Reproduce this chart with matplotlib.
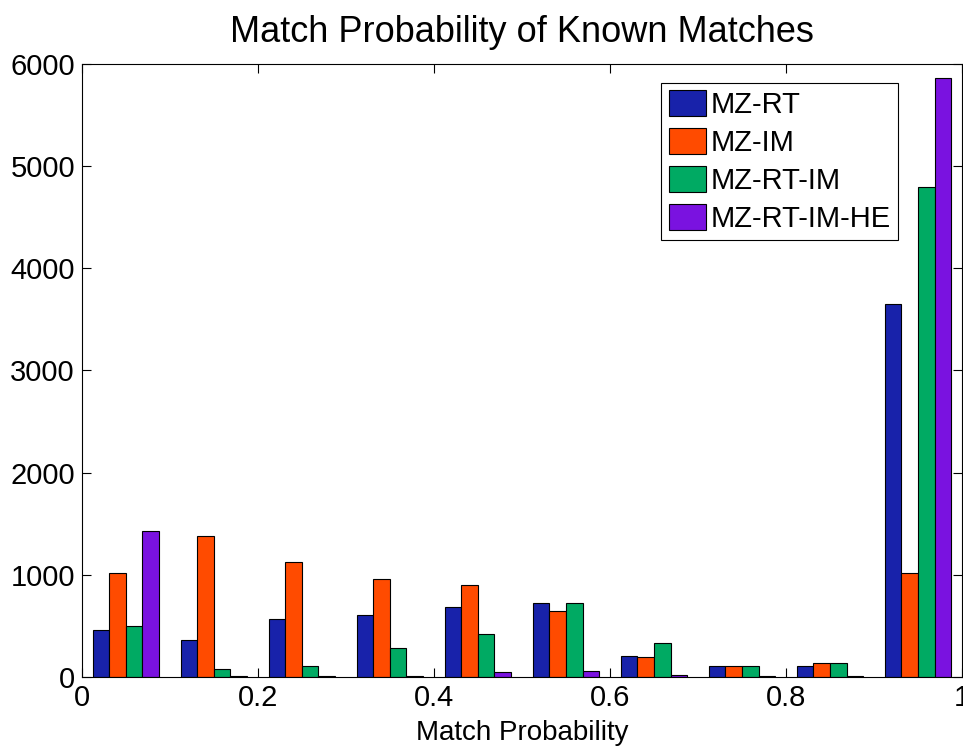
import matplotlib
matplotlib.use('Agg')
import matplotlib.pyplot as plt
import numpy as np

plt.rcParams['font.family'] = ['Liberation Sans', 'DejaVu Sans']

# histogram bin centers and counts per method
bin_centers = [0.05, 0.15, 0.25, 0.35, 0.45, 0.55, 0.65, 0.75, 0.85, 0.95]
mz_rt = [458, 360, 562, 608, 683, 719, 203, 105, 108, 3650]
mz_im = [1017, 1380, 1128, 958, 899, 647, 193, 105, 131, 1017]
mz_rt_im = [500, 72, 108, 278, 419, 719, 334, 105, 131, 4797]
mz_rt_im_he = [1426, 10, 10, 10, 46, 59, 20, 8, 8, 5863]

series = [mz_rt, mz_im, mz_rt_im, mz_rt_im_he]
labels = ['MZ-RT', 'MZ-IM', 'MZ-RT-IM', 'MZ-RT-IM-HE']
colors = ['#1822AA', '#FF4B00', '#00AA63', '#7A12E0']

fig = plt.figure(figsize=(9.63, 7.52), dpi=100)
ax = fig.add_axes([0.085, 0.1, 0.914, 0.815])

bar_w = 0.0188
x = np.array(bin_centers)
for i, (vals, lab, col) in enumerate(zip(series, labels, colors)):
    offs = (i - 1.5) * bar_w
    ax.bar(x + offs, vals, width=bar_w, color=col, edgecolor='black',
           linewidth=0.8, label=lab)

ax.set_xlim(0, 1)
ax.set_ylim(0, 6000)
ax.set_xticks([0, 0.2, 0.4, 0.6, 0.8, 1])
ax.set_xticklabels(['0', '0.2', '0.4', '0.6', '0.8', '1'])
ax.set_yticks(range(0, 6001, 1000))
ax.tick_params(direction='in', length=6.5, width=0.8, top=True, right=True,
               labelsize=21, pad=5)
for s in ax.spines.values():
    s.set_linewidth(0.8)

ax.set_title('Match Probability of Known Matches', fontsize=26, pad=16)
ax.set_xlabel('Match Probability', fontsize=20, labelpad=6)

leg = ax.legend(loc='upper right', bbox_to_anchor=(0.927, 0.969), fontsize=21,
                fancybox=False, framealpha=1, edgecolor='black',
                handlelength=1.28, handleheight=1.0, handletextpad=0.15,
                labelspacing=0.3, borderpad=0.25, borderaxespad=0.0)
leg.get_frame().set_linewidth(0.8)

fig.savefig('out.png', dpi=100)
